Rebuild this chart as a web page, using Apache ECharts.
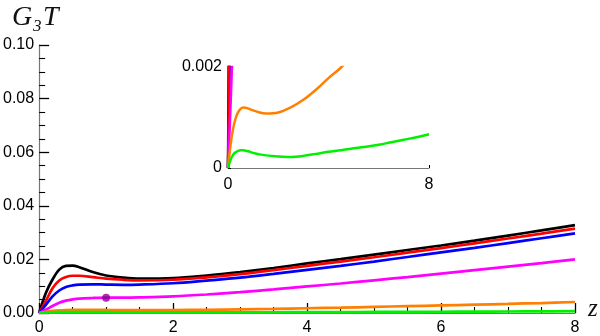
<!DOCTYPE html>
<html>
<head>
<meta charset="utf-8">
<script src="https://cdn.jsdelivr.net/npm/echarts@6/dist/echarts.min.js"></script>
<style>
  html, body { margin: 0; padding: 0; background: #fff; }
  #main { width: 600px; height: 336px; }
</style>
</head>
<body>
<div id="main"></div>
<script>
// sample points in z
var zs      = [0, 0.1, 0.2, 0.3, 0.4, 0.5, 0.6, 0.8, 1.0, 1.25, 1.5, 2, 2.5, 3, 3.5, 4, 4.5, 5, 5.5, 6, 6.5, 7, 7.5, 8];
var black   = [0, 0.0075, 0.0125, 0.0162, 0.0176, 0.0177, 0.0171, 0.0153, 0.0140, 0.0132, 0.0128, 0.0130, 0.0140, 0.0153, 0.0168, 0.0185, 0.0201, 0.0218, 0.0235, 0.0252, 0.0270, 0.0289, 0.0308, 0.0328];
var red     = [0, 0.0045, 0.0092, 0.0121, 0.0134, 0.0139, 0.0139, 0.0134, 0.0128, 0.0124, 0.0122, 0.0124, 0.0133, 0.0145, 0.0160, 0.0176, 0.0192, 0.0208, 0.0225, 0.0242, 0.0260, 0.0278, 0.0296, 0.0315];
var blue    = [0, 0.0030, 0.0062, 0.0084, 0.0097, 0.0103, 0.0106, 0.0107, 0.0106, 0.0105, 0.0106, 0.0111, 0.0121, 0.0132, 0.0146, 0.0161, 0.0176, 0.0192, 0.0209, 0.0226, 0.0243, 0.0261, 0.0279, 0.0297];
var magenta = [0, 0.0012, 0.0026, 0.0038, 0.0046, 0.0051, 0.0054, 0.0056, 0.0057, 0.0057, 0.0058, 0.0062, 0.0069, 0.0078, 0.0088, 0.0099, 0.0110, 0.0122, 0.0134, 0.0147, 0.0160, 0.0173, 0.0186, 0.0200];
var orange  = [0, 0.00045, 0.00077, 0.00098, 0.00110, 0.00117, 0.00120, 0.00118, 0.00114, 0.00110, 0.00108, 0.00110, 0.00120, 0.00135, 0.00155, 0.00178, 0.00199, 0.00228, 0.00255, 0.00282, 0.00310, 0.00340, 0.00372, 0.00410];
var green   = [0, 0.00016, 0.00026, 0.00031, 0.00034, 0.00035, 0.00035, 0.00033, 0.00030, 0.00027, 0.00025, 0.00023, 0.00022, 0.00024, 0.00028, 0.00032, 0.00035, 0.00039, 0.00042, 0.00046, 0.00051, 0.00056, 0.00061, 0.00067];
var dotPoint = [1.0, 0.0057];

var mainYTicks = [0, 0.02, 0.04, 0.06, 0.08, 0.10];
var mainXTicks = [0, 2, 4, 6, 8];
var insetYTicks = [0, 0.002];
var insetXTicks = [0, 8];

// insetZ: blue sits underneath in the inset, the steep lines at z=0 show black/red/magenta
var curves = [
  { name: 'black', data: black, color: '#000000', insetZ: 3 },
  { name: 'red', data: red, color: '#ff0000', insetZ: 3 },
  { name: 'blue', data: blue, color: '#0000ff', insetZ: 2 },
  { name: 'magenta', data: magenta, color: '#ff00ff', insetZ: 3 },
  { name: 'orange', data: orange, color: '#ff8000', insetZ: 3 },
  { name: 'green', data: green, color: '#00f000', insetZ: 3 }
];

function pairs(vals) {
  return zs.map(function (z, i) { return [z, vals[i]]; });
}

var chart = echarts.init(document.getElementById('main'));

var labelFont = { color: '#000', fontSize: 16, fontFamily: 'Liberation Sans, Arial, sans-serif' };
var axisGray = '#777';
var serif = '"Liberation Serif", "DejaVu Serif", serif';

var series = [];
curves.forEach(function (c) {
  series.push({
    name: c.name, type: 'line', xAxisIndex: 0, yAxisIndex: 0,
    data: pairs(c.data), showSymbol: false, smooth: 0.35,
    lineStyle: { color: c.color, width: 2.7 }, itemStyle: { color: c.color },
    silent: true, z: 3
  });
  series.push({
    name: c.name + '-inset', type: 'line', xAxisIndex: 1, yAxisIndex: 1,
    data: pairs(c.data), showSymbol: false, smooth: 0.35,
    lineStyle: { color: c.color, width: 2.5 }, itemStyle: { color: c.color },
    silent: true, z: c.insetZ
  });
});
series.push({
  name: 'dot', type: 'scatter', xAxisIndex: 0, yAxisIndex: 0,
  data: [dotPoint], symbolSize: 8, itemStyle: { color: '#8b008b' }, z: 5
});

var option = {
  animation: false,
  backgroundColor: '#fff',
  grid: [
    { left: 38, top: 45, width: 537, height: 268 },
    { left: 228, top: 67, width: 201, height: 101 }
  ],
  xAxis: [
    {
      type: 'value', gridIndex: 0, min: 0, max: 8, interval: 2,
      axisLine: { show: true, onZero: false, lineStyle: { color: axisGray, width: 1.2 } },
      axisTick: { show: true, inside: true, length: 10, lineStyle: { color: '#000', width: 1.3 } },
      minorTick: { show: true, splitNumber: 4, length: 6, lineStyle: { color: '#000', width: 1.1 } },
      splitLine: { show: false },
      axisLabel: Object.assign({ margin: 7, formatter: function (v) { return mainXTicks.indexOf(v) >= 0 ? String(v) : ''; } }, labelFont)
    },
    {
      type: 'value', gridIndex: 1, min: 0, max: 8, interval: 8,
      axisLine: { show: true, onZero: false, lineStyle: { color: axisGray, width: 1.2 } },
      axisTick: { show: true, inside: true, length: 3, lineStyle: { color: '#000' } },
      splitLine: { show: false },
      axisLabel: Object.assign({ margin: 9, formatter: function (v) { return insetXTicks.indexOf(v) >= 0 ? String(v) : ''; } }, labelFont)
    }
  ],
  yAxis: [
    {
      type: 'value', gridIndex: 0, min: 0, max: 0.1, interval: 0.02,
      axisLine: { show: true, onZero: false, lineStyle: { color: axisGray, width: 1.2 } },
      axisTick: { show: true, inside: true, length: 10, lineStyle: { color: '#000', width: 1.3 } },
      minorTick: { show: true, splitNumber: 4, length: 6, lineStyle: { color: '#000', width: 1.1 } },
      splitLine: { show: false },
      axisLabel: Object.assign({ margin: 5, formatter: function (v) {
        var hit = mainYTicks.some(function (t) { return Math.abs(t - v) < 1e-9; });
        return hit ? v.toFixed(2) : '';
      } }, labelFont)
    },
    {
      type: 'value', gridIndex: 1, min: 0, max: 0.002, interval: 0.002,
      axisLine: { show: true, onZero: false, lineStyle: { color: axisGray, width: 1.2 } },
      axisTick: { show: true, inside: true, length: 3, lineStyle: { color: '#000' } },
      splitLine: { show: false },
      axisLabel: Object.assign({ margin: 6, formatter: function (v) {
        if (Math.abs(v) < 1e-12) return '0';
        return Math.abs(v - insetYTicks[1]) < 1e-12 ? '0.002' : '';
      } }, labelFont)
    }
  ],
  graphic: [
    { type: 'text', left: 12, top: 4, style: { text: 'G', font: 'italic 28px ' + serif, fill: '#111' } },
    { type: 'text', left: 33, top: 18, style: { text: '3', font: 'italic 17px ' + serif, fill: '#111' } },
    { type: 'text', left: 43, top: 4, style: { text: 'T', font: 'italic 28px ' + serif, fill: '#111' } },
    { type: 'text', left: 588, top: 297, style: { text: 'z', font: 'italic 25px ' + serif, fill: '#111' } }
  ],
  series: series
};

chart.setOption(option);
</script>
</body>
</html>
